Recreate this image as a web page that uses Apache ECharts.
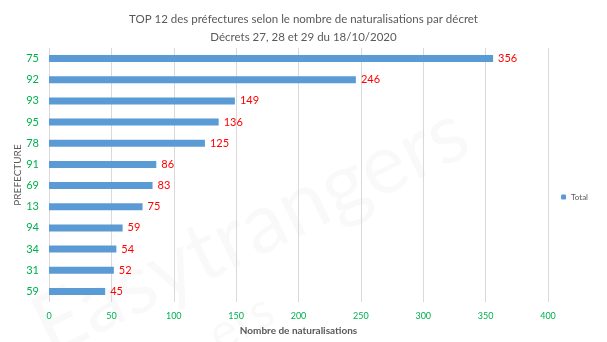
<!DOCTYPE html>
<html>
<head>
<meta charset="utf-8">
<script src="https://cdn.jsdelivr.net/npm/echarts@6/dist/echarts.min.js"></script>
<style>
  html, body { margin: 0; padding: 0; background: #fff; }
  #chart { width: 607px; height: 342px; }
</style>
</head>
<body>
<div id="chart"></div>
<script>
// Prefectures, top to bottom
const prefectures = ['75', '92', '93', '95', '78', '91', '69', '13', '94', '34', '31', '59'];
// Number of naturalisations per prefecture
const naturalisations = [356, 246, 149, 136, 125, 86, 83, 75, 59, 54, 52, 45];
// Horizontal axis ticks
const xTicks = [0, 50, 100, 150, 200, 250, 300, 350, 400];

const FONT = 'Lato, "Open Sans", sans-serif';
const chart = echarts.init(document.getElementById('chart'), null, { renderer: 'canvas' });

chart.setOption({
  animation: false,
  backgroundColor: '#ffffff',
  textStyle: { fontFamily: FONT },
  title: {
    text: 'TOP 12 des préfectures selon le nombre de naturalisations par décret\nDécrets 27, 28 et 29 du 18/10/2020',
    left: 'center',
    top: 5,
    textStyle: { fontFamily: FONT, fontSize: 11.5, fontWeight: 'normal', color: '#595959', lineHeight: 18 }
  },
  // faint background brand text
  graphic: [
    {
      type: 'text', left: 20, top: 90, rotation: 0.45, z: -1, silent: true,
      style: { text: 'Easytrangers', fontSize: 84, fontFamily: FONT, fill: 'rgba(0,0,0,0.022)' }
    },
    {
      type: 'text', left: 200, top: 285, rotation: 0.5, z: -1, silent: true,
      style: { text: 'ers', fontSize: 50, fontFamily: FONT, fill: 'rgba(0,0,0,0.022)' }
    }
  ],
  legend: {
    data: ['Total'],
    right: 14,
    top: 188,
    orient: 'vertical',
    itemWidth: 5,
    itemHeight: 5,
    itemGap: 4,
    textStyle: { fontSize: 8, color: '#595959', fontFamily: FONT }
  },
  grid: { left: 49, right: 59, top: 48, bottom: 40, containLabel: false },
  xAxis: {
    type: 'value',
    min: xTicks[0],
    max: xTicks[xTicks.length - 1],
    interval: xTicks[1] - xTicks[0],
    name: 'Nombre de naturalisations',
    nameLocation: 'middle',
    nameGap: 24,
    nameMoveOverlap: false,
    nameTextStyle: { fontSize: 10, fontWeight: 'bold', color: '#595959', fontFamily: FONT },
    axisLine: { show: false },
    axisTick: { show: false },
    axisLabel: { color: '#00B050', fontSize: 9, margin: 10, fontFamily: FONT },
    splitLine: { show: true, lineStyle: { color: '#D9D9D9', width: 1 } }
  },
  yAxis: {
    type: 'category',
    data: prefectures,
    inverse: true,
    name: 'PREFECTURE',
    nameLocation: 'middle',
    nameRotate: 90,
    nameGap: 26,
    nameMoveOverlap: false,
    nameTextStyle: { fontSize: 10, color: '#595959', fontFamily: FONT },
    axisLine: { show: false },
    axisTick: { show: false },
    axisLabel: { color: '#00B050', fontSize: 11, margin: 10, fontFamily: FONT },
    splitLine: { show: false }
  },
  series: [{
    name: 'Total',
    type: 'bar',
    data: naturalisations,
    barWidth: 7,
    itemStyle: { color: '#5B9BD5' },
    label: {
      show: true,
      position: 'right',
      distance: 5,
      color: '#FF0000',
      fontSize: 11,
      fontFamily: FONT
    }
  }]
});
</script>
</body>
</html>
